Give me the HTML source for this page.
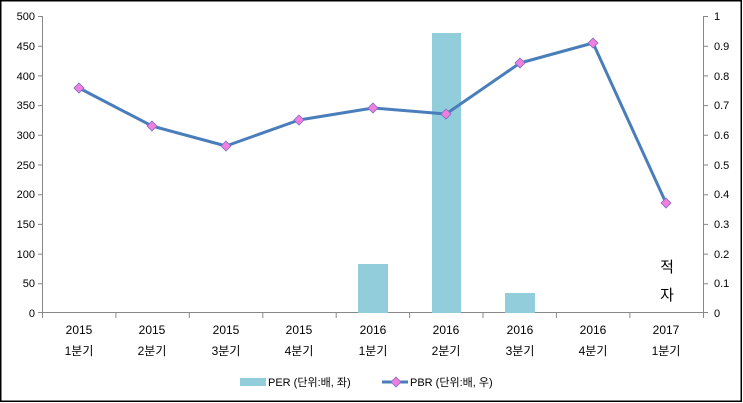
<!DOCTYPE html>
<html><head><meta charset="utf-8"><style>
html,body{margin:0;padding:0;background:#fff;}
svg{display:block;font-family:"Liberation Sans","Noto Sans CJK KR",sans-serif;}
</style></head><body>
<svg width="743" height="403" viewBox="0 0 743 403" xmlns="http://www.w3.org/2000/svg">
<rect x="0.75" y="0.75" width="740.5" height="400.5" fill="#fff" stroke="#000" stroke-width="1.5"/>
<g stroke="#888" stroke-width="1" fill="none">
<line x1="42.5" y1="16" x2="42.5" y2="313"/>
<line x1="703.5" y1="16" x2="703.5" y2="313"/>
<line x1="42" y1="312.5" x2="704" y2="312.5"/>
<path d="M38 16.5H42.5M38 46.2H42.5M38 75.9H42.5M38 105.6H42.5M38 135.3H42.5M38 165H42.5M38 194.7H42.5M38 224.4H42.5M38 254.1H42.5M38 283.8H42.5M38 312.5H42.5"/>
<path d="M703.5 16.5H708M703.5 46.2H708M703.5 75.9H708M703.5 105.6H708M703.5 135.3H708M703.5 165H708M703.5 194.7H708M703.5 224.4H708M703.5 254.1H708M703.5 283.8H708M703.5 312.5H708"/>
<path d="M42.5 313V318M115.9 313V318M189.3 313V318M262.8 313V318M336.2 313V318M409.6 313V318M483 313V318M556.4 313V318M629.9 313V318M703.5 313V318"/>
</g>
<g font-size="11" fill="#000" text-anchor="end">
<text x="35" y="20">500</text><text x="35" y="50">450</text><text x="35" y="80">400</text><text x="35" y="109">350</text><text x="35" y="139">300</text><text x="35" y="169">250</text><text x="35" y="198">200</text><text x="35" y="228">150</text><text x="35" y="258">100</text><text x="35" y="287">50</text><text x="35" y="317">0</text>
</g>
<g font-size="11" fill="#000">
<text x="714" y="20">1</text><text x="714" y="50">0.9</text><text x="714" y="80">0.8</text><text x="714" y="109">0.7</text><text x="714" y="139">0.6</text><text x="714" y="169">0.5</text><text x="714" y="198">0.4</text><text x="714" y="228">0.3</text><text x="714" y="258">0.2</text><text x="714" y="287">0.1</text><text x="714" y="317">0</text>
</g>
<g fill="#92CDDC">
<rect x="358" y="264" width="30" height="49"/>
<rect x="432" y="33" width="29" height="280"/>
<rect x="505" y="293" width="30" height="20"/>
</g>
<polyline points="79,88 152,126 226,146 299,120 373,108 446,114 520,63 593,43 666,203" fill="none" stroke="#4A7EBB" stroke-width="3" stroke-linejoin="round"/>
<g fill="#F07FE0" stroke="#7E6FC0" stroke-width="0.8">
<path d="M79 83L84 88L79 93L74 88Z"/><path d="M152 121L157 126L152 131L147 126Z"/><path d="M226 141L231 146L226 151L221 146Z"/><path d="M299 115L304 120L299 125L294 120Z"/><path d="M373 103L378 108L373 113L368 108Z"/><path d="M446 109L451 114L446 119L441 114Z"/><path d="M520 58L525 63L520 68L515 63Z"/><path d="M593 38L598 43L593 48L588 43Z"/><path d="M666 198L671 203L666 208L661 203Z"/>
</g>
<g font-size="12" fill="#000" text-anchor="middle">
<text x="79" y="334">2015</text><text x="152" y="334">2015</text><text x="226" y="334">2015</text><text x="299" y="334">2015</text><text x="373" y="334">2016</text><text x="446" y="334">2016</text><text x="520" y="334">2016</text><text x="593" y="334">2016</text><text x="666" y="334">2017</text>
<text x="79" y="355">1분기</text><text x="152" y="355">2분기</text><text x="226" y="355">3분기</text><text x="299" y="355">4분기</text><text x="373" y="355">1분기</text><text x="446" y="355">2분기</text><text x="520" y="355">3분기</text><text x="593" y="355">4분기</text><text x="666" y="355">1분기</text>
</g>
<g font-size="15" fill="#000" text-anchor="middle">
<text x="667" y="272">적</text><text x="667" y="300">자</text>
</g>
<rect x="240" y="378" width="26" height="8" fill="#92CDDC"/>
<text x="268" y="386" font-size="11" fill="#000">PER (단위:배, 좌)</text>
<line x1="382" y1="382" x2="408" y2="382" stroke="#4A7EBB" stroke-width="3"/>
<path d="M396 377L401 382L396 387L391 382Z" fill="#F07FE0" stroke="#7E6FC0" stroke-width="0.8"/>
<text x="410" y="386" font-size="11" fill="#000">PBR (단위:배, 우)</text>
</svg>
</body></html>
